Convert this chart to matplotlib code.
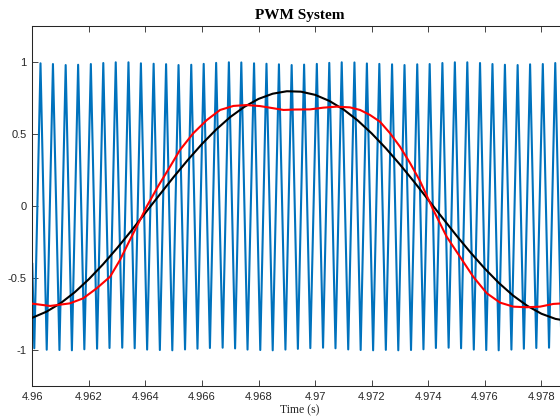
import matplotlib

matplotlib.use("Agg")
import matplotlib.pyplot as plt
import numpy as np
from matplotlib.ticker import FuncFormatter

plt.rcParams["axes.unicode_minus"] = False
plt.rcParams["font.family"] = ["Liberation Sans", "DejaVu Sans"]

# carrier (triangle) vertices
start_t, start_v = 4.96000, -0.40
peak_t = [4.96029, 4.96073, 4.96118, 4.96162, 4.96207, 4.96251, 4.96295, 4.96340,
          4.96384, 4.96429, 4.96473, 4.96517, 4.96562, 4.96606, 4.96650, 4.96695,
          4.96739, 4.96784, 4.96828, 4.96872, 4.96917, 4.96961, 4.97006, 4.97050,
          4.97094, 4.97139, 4.97183, 4.97227, 4.97272, 4.97316, 4.97361, 4.97405,
          4.97450, 4.97494, 4.97538, 4.97583, 4.97627, 4.97671, 4.97716, 4.97760,
          4.97805, 4.97849]
peak_v = [0.993, 0.988, 0.981, 0.983, 0.988, 0.995, 1.0, 1.0, 0.993,
          0.990, 0.987, 0.981, 0.983, 0.989, 0.996, 1.0, 0.999, 0.993,
          0.990, 0.986, 0.981, 0.984, 0.989, 0.996, 1.0, 0.999, 0.992,
          0.989, 0.986, 0.981, 0.986, 0.988, 0.995, 1.0, 1.0, 0.995,
          0.988, 0.983, 0.981, 0.986, 0.988, 0.995]
trough_t = [4.96007, 4.96051, 4.96096, 4.96140, 4.96184, 4.96229, 4.96273, 4.96318,
            4.96362, 4.96406, 4.96451, 4.96495, 4.96540, 4.96584, 4.96628, 4.96673,
            4.96717, 4.96761, 4.96806, 4.96850, 4.96895, 4.96939, 4.96983, 4.97028,
            4.97072, 4.97117, 4.97161, 4.97205, 4.97250, 4.97294, 4.97339, 4.97383,
            4.97427, 4.97472, 4.97516, 4.97561, 4.97605, 4.97649, 4.97694, 4.97738,
            4.97782, 4.97827, 4.97871]
trough_v = [-0.986, -0.996, -0.998, -1.0, -0.993, -0.989, -0.984, -0.982, -0.986,
            -0.995, -0.998, -1.0, -0.994, -0.989, -0.984, -0.982, -0.987, -0.995,
            -0.998, -1.0, -0.995, -0.990, -0.985, -0.982, -0.986, -0.994, -0.998,
            -1.0, -0.997, -1.0, -0.998, -0.993, -0.984, -0.982, -0.986, -0.995,
            -0.998, -1.0, -0.995, -0.989, -0.984, -0.982, -0.986]

# reference sine
ref_t = [4.9600, 4.9605, 4.9610, 4.9615, 4.9620, 4.9625, 4.9630, 4.9635, 4.9640,
         4.9645, 4.9650, 4.9655, 4.9660, 4.9665, 4.9670, 4.9675, 4.9680, 4.9685,
         4.9690, 4.9695, 4.9700, 4.9705, 4.9710, 4.9715, 4.9720, 4.9725, 4.9730,
         4.9735, 4.9740, 4.9745, 4.9750, 4.9755, 4.9760, 4.9765, 4.9770, 4.9775,
         4.9780, 4.9785, 4.9790]
ref_v = [-0.774, -0.732, -0.673, -0.597, -0.506, -0.403, -0.290, -0.170, -0.045,
         0.080, 0.204, 0.322, 0.433, 0.533, 0.620, 0.691, 0.746, 0.782,
         0.799, 0.796, 0.774, 0.732, 0.673, 0.597, 0.506, 0.403, 0.290,
         0.170, 0.045, -0.080, -0.204, -0.322, -0.433, -0.533, -0.620, -0.691,
         -0.746, -0.782, -0.799]

# filtered output
out_t = [4.96000, 4.96063, 4.96133, 4.96180, 4.96228, 4.96275, 4.96310, 4.96345,
         4.96381, 4.96404, 4.96445, 4.96487, 4.96522, 4.96569, 4.96617, 4.96664,
         4.96711, 4.96758, 4.96805, 4.96852, 4.96888, 4.96929, 4.96982, 4.97029,
         4.97076, 4.97123, 4.97159, 4.97194, 4.97229, 4.97265, 4.97300, 4.97336,
         4.97371, 4.97418, 4.97465, 4.97512, 4.97559, 4.97607, 4.97654, 4.97701,
         4.97748, 4.97795, 4.97842, 4.97893]
out_v = [-0.676, -0.692, -0.674, -0.639, -0.569, -0.489, -0.373, -0.234,
         -0.095, -0.003, 0.140, 0.275, 0.391, 0.507, 0.599, 0.669,
         0.697, 0.703, 0.696, 0.681, 0.669, 0.672, 0.673, 0.685,
         0.692, 0.687, 0.669, 0.634, 0.588, 0.507, 0.414, 0.299,
         0.175, -0.026, -0.211, -0.350, -0.489, -0.604, -0.669, -0.697,
         -0.701, -0.697, -0.678, -0.672]

xticks = [4.960, 4.962, 4.964, 4.966, 4.968, 4.970, 4.972, 4.974, 4.976, 4.978]
yticks = [-1, -0.5, 0, 0.5, 1]

car_t = np.array([start_t] + peak_t + trough_t)
car_v = np.array([start_v] + peak_v + trough_v)
order = np.argsort(car_t)
car_t, car_v = car_t[order], car_v[order]

fig = plt.figure(figsize=(5.6, 4.18), dpi=100)
ax = fig.add_axes([32.3 / 560, 31.7 / 418, 535.4 / 560, 360 / 418])

ax.plot(car_t, car_v, color="#0072BD", lw=1.5, zorder=2)
ax.plot(ref_t, ref_v, color="black", lw=1.5, zorder=3)
ax.plot(out_t, out_v, color="red", lw=1.5, zorder=4)

ax.set_xlim(4.96, 4.97893)
ax.set_ylim(-1.25, 1.25)
ax.set_xticks(xticks)
ax.set_yticks(yticks)
ax.xaxis.set_major_formatter(FuncFormatter(lambda v, p: f"{v:g}"))
ax.yaxis.set_major_formatter(FuncFormatter(lambda v, p: f"{v:g}"))
ax.tick_params(direction="in", length=4, width=0.6, labelsize=8,
               colors="#262626", top=True, right=True, pad=4)
for s in ax.spines.values():
    s.set_color("#262626")
    s.set_linewidth(0.75)

ax.set_title("PWM System", family="Liberation Serif", fontweight="bold",
             fontsize=11, pad=5)
ax.set_xlabel("Time (s)", family="Liberation Serif", fontsize=8.5, labelpad=2,
              color="#262626")

fig.savefig("out.png", dpi=100)
